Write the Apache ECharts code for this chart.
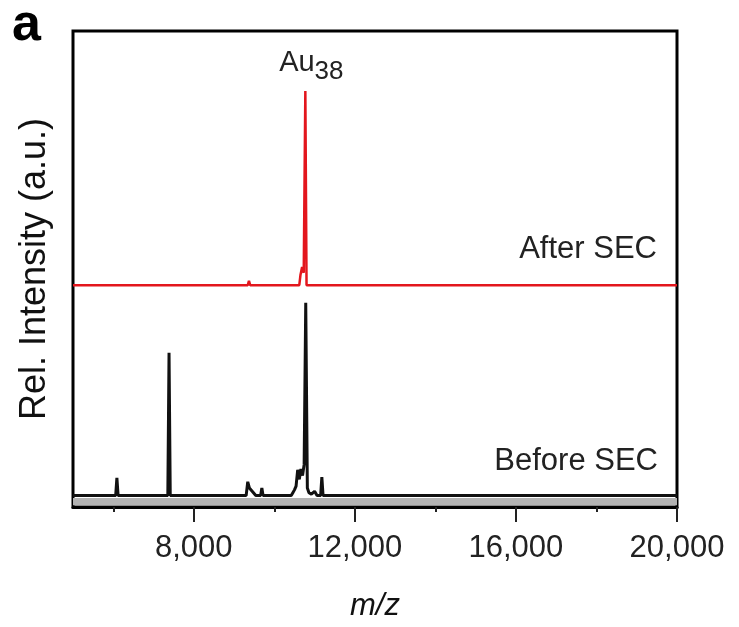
<!DOCTYPE html>
<html>
<head>
<meta charset="utf-8">
<script src="https://cdn.jsdelivr.net/npm/echarts@6/dist/echarts.min.js"></script>
<style>
  html, body { margin: 0; padding: 0; background: #fff; }
  #main { width: 739px; height: 627px; }
</style>
</head>
<body>
<div id="main"></div>
<script>
// m/z and intensity (intensity above each trace's own baseline)
var blackMz  = [5000, 6060, 6090, 6120, 7355, 7385, 7415, 9300, 9340, 9380, 9420, 9460, 9500, 9540, 9660, 9690, 9720, 10420, 10460, 10500, 10540, 10580, 10620, 10660, 10700, 10740, 10780, 10820, 10860, 10920, 11000, 11060, 11150, 11180, 11210, 20000];
var blackInt = [0,    0,    3.7,  0,    0,    30,   0,    0,    2.9,  1.6,  1.9,  0.8,  1.2,  0,    0,    1.6,  0,    0,     0.6,   1.2,   2.0,   5.4,   3.4,   5.6,   4.2,   6.5,   40.5,  1.6,   0.6,   0.3,   0.9,   0,     0,     3.9,   0,     0];
var redMz    = [5000, 9340, 9370, 9400, 10620, 10650, 10690, 10730, 10770, 10800, 20000];
var redInt   = [0,    0,    0.9,  0,    0,     2.2,   3.8,   2.6,   40.8,  0,     0];
var blackBase = 2.4;
var redBase = 46.6;
var majorTicks = [8000, 12000, 16000, 20000];
var minorTicks = [6000, 10000, 14000, 18000];

var FONT = "'Liberation Sans', Arial, sans-serif";

function toSeries(mz, inten, base) {
  var out = [];
  for (var i = 0; i < mz.length; i++) out.push([mz[i], base + inten[i]]);
  return out;
}
function fmt(v) {
  return String(v).replace(/\B(?=(\d{3})+(?!\d))/g, ',');
}

var myChart = echarts.init(document.getElementById('main'));
var option = {
  backgroundColor: '#fff',
  animation: false,
  grid: {
    left: 73, right: 62, top: 31, bottom: 120,
    show: true, borderColor: '#000', borderWidth: 3, backgroundColor: 'transparent'
  },
  xAxis: [
    {
      type: 'value', min: 5000, max: 20000,
      name: 'm/z', nameLocation: 'middle', nameGap: 84,
      nameTextStyle: { fontFamily: FONT, fontSize: 31, fontStyle: 'italic', color: '#111' },
      axisLine: { show: true, onZero: false, lineStyle: { color: '#000', width: 3 } },
      axisTick: { show: true, length: 15, lineStyle: { color: '#222', width: 2 }, customValues: majorTicks },
      axisLabel: { customValues: majorTicks, formatter: fmt, margin: 26, fontFamily: FONT, fontSize: 31, color: '#222' },
      splitLine: { show: false }
    },
    {
      // minor ticks
      type: 'value', min: 5000, max: 20000, position: 'bottom',
      axisLine: { show: false },
      axisTick: { show: true, length: 5, lineStyle: { color: '#222', width: 2 }, customValues: minorTicks },
      axisLabel: { show: false },
      splitLine: { show: false }
    }
  ],
  yAxis: {
    type: 'value', min: 0, max: 100,
    name: 'Rel. Intensity (a.u.)', nameLocation: 'middle', nameGap: 20, nameRotate: 90,
    nameTextStyle: { fontFamily: FONT, fontSize: 36, color: '#111' },
    axisLine: { show: false }, axisTick: { show: false }, axisLabel: { show: false },
    splitLine: { show: false }
  },
  series: [
    {
      name: 'Before SEC', type: 'line', showSymbol: false, silent: true,
      data: toSeries(blackMz, blackInt, blackBase),
      lineStyle: { color: '#111', width: 3 },
      markArea: {
        silent: true,
        itemStyle: { color: '#b3b3b3' },
        data: [[{ xAxis: 5000, yAxis: 0.35 }, { xAxis: 20000, yAxis: 1.9 }]]
      },
      z: 3
    },
    {
      name: 'After SEC', type: 'line', showSymbol: false, silent: true,
      data: toSeries(redMz, redInt, redBase),
      lineStyle: { color: '#e3161d', width: 2.5 },
      markPoint: {
        symbol: 'circle', symbolSize: 0, silent: true,
        data: [{ coord: [10770, redBase + 40.8] }],
        label: {
          show: true, position: 'top', distance: 6, offset: [6, 0],
          formatter: '{a|Au}{b|38}',
          rich: {
            a: { fontFamily: FONT, fontSize: 29, color: '#222' },
            b: { fontFamily: FONT, fontSize: 26, color: '#222', padding: [18, 0, 0, 0] }
          }
        }
      },
      z: 4
    }
  ],
  graphic: [
    { type: 'text', left: 12, top: 0, style: { text: 'a', font: 'bold 52px ' + FONT, fill: '#000' } },
    { type: 'text', right: 82, top: 234, style: { text: 'After SEC', font: '31px ' + FONT, fill: '#222' } },
    { type: 'text', right: 81, top: 446, style: { text: 'Before SEC', font: '31px ' + FONT, fill: '#222' } }
  ]
};
myChart.setOption(option);
</script>
</body>
</html>
